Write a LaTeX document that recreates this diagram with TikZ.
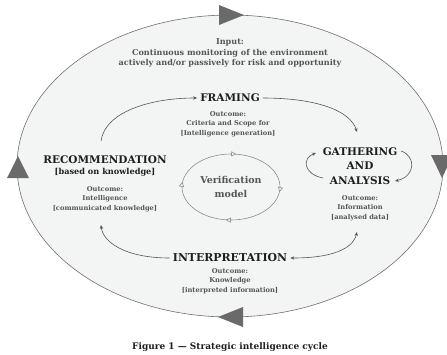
\documentclass[tikz,border=0pt]{standalone}
\usepackage{fontspec}
\setmainfont{DejaVu Serif}
\usetikzlibrary{arrows.meta,decorations.markings}
\definecolor{ringfill}{HTML}{F3F5F5}
\definecolor{ringline}{HTML}{707070}
\definecolor{tri}{HTML}{6A6A6A}
\definecolor{grytxt}{HTML}{555555}
\definecolor{darktxt}{HTML}{1E1E1E}
\tikzset{
  small/.style={text=grytxt,align=center,inner sep=1pt,font=\fontsize{6.7}{9.6}\selectfont\bfseries},
  stage/.style={text=darktxt,align=center,inner sep=3pt,font=\fontsize{10.5}{14.5}\selectfont\bfseries},
  conn/.style={draw=grytxt,line width=0.6pt,-{Stealth[length=4pt,width=3.4pt]}},
  bigtri/.style={fill=tri,draw=none},
}
\begin{document}
\begin{tikzpicture}[x=1pt,y=-1pt]
\useasboundingbox (0,0) rectangle (447,354);
\fill[white] (0,0) rectangle (447,354);
% outer ring
\draw[fill=ringfill,draw=ringline,line width=0.6pt] (230,166) ellipse [x radius=213, y radius=151];
\fill[bigtri] (219,5) -- (219,25) -- (244,15) -- cycle;
\fill[bigtri] (431,155) -- (453,155) -- (442,178) -- cycle;
\fill[bigtri] (243,307) -- (243,327) -- (218,317) -- cycle;
\fill[bigtri] (7,178) -- (29,178) -- (18,156) -- cycle;
% texts
\node[small,font=\fontsize{8.1}{10.6}\selectfont\bfseries] (input) at (230,53) {Input:\\Continuous monitoring of the environment\\actively and/or passively for risk and opportunity};
\node[stage] (framing) at (230,98) {FRAMING};
\node[small] (framingout) at (228,124) {Outcome:\\Criteria and Scope for\\{[}Intelligence generation{]}};
\node[stage] (recom) at (105,160) {RECOMMENDATION};
\node[small,text=darktxt,font=\fontsize{8.2}{9}\selectfont\bfseries] (recomsub) at (105,172) {[based on knowledge]};
\node[small] (recomout) at (105,199) {Outcome:\\Intelligence\\{[}communicated knowledge{]}};
\node[stage] (gather) at (360,166) {GATHERING\\AND\\ANALYSIS};
\node[small] (gatherout) at (360,208) {Outcome:\\Information\\{[}analysed data{]}};
\node[stage,font=\fontsize{10.9}{14.5}\selectfont\bfseries] (interp) at (230,258) {INTERPRETATION};
\node[small] (interpout) at (230,281) {Outcome:\\Knowledge\\{[}interpreted information{]}};
\node[text=grytxt,align=center,font=\fontsize{9.5}{13.5}\selectfont\bfseries] (verif) at (231,187) {Verification\\model};
\node[text=darktxt,font=\fontsize{9}{10}\selectfont\bfseries] (caption) at (230,347) {Figure 1 — Strategic intelligence cycle};
% verification ring
\draw[draw=ringline!80,line width=0.6pt,
  postaction={decorate},
  decoration={markings,
    mark=at position 0.02 with {\arrow{Triangle[open,length=5pt,width=5pt,fill=ringfill]}},
    mark=at position 0.27 with {\arrow{Triangle[open,length=5pt,width=5pt,fill=ringfill]}},
    mark=at position 0.52 with {\arrow{Triangle[open,length=5pt,width=5pt,fill=ringfill]}},
    mark=at position 0.77 with {\arrow{Triangle[open,length=5pt,width=5pt,fill=ringfill]}}}]
  (verif.center) ellipse [x radius=49, y radius=33];
% connector end points
\coordinate (a1s) at (101,141);
\coordinate (a2e) at (357,132);
\coordinate (a3s) at (323,178);
\coordinate (a3e) at (316,153);
\coordinate (a4s) at (401,151);
\coordinate (a4e) at (395,181);
\coordinate (a5e) at (357,232);
\coordinate (a6e) at (101,225);
% connectors
\draw[conn] (a1s) .. controls (105,112) and (150,98) .. (framing.west);
\draw[conn] (framing.east) .. controls (315,98) and (350,110) .. (a2e);
\draw[conn] (a3s) .. controls (303,174) and (302,158) .. (a3e);
\draw[conn] (a4s) .. controls (416,156) and (416,176) .. (a4e);
\draw[conn,{Stealth[length=4pt,width=3.4pt]}-{Stealth[length=4pt,width=3.4pt]}] (interp.east) .. controls (340,258) and (354,245) .. (a5e);
\draw[conn] (interp.west) .. controls (125,258) and (103,242) .. (a6e);
\end{tikzpicture}
\end{document}
